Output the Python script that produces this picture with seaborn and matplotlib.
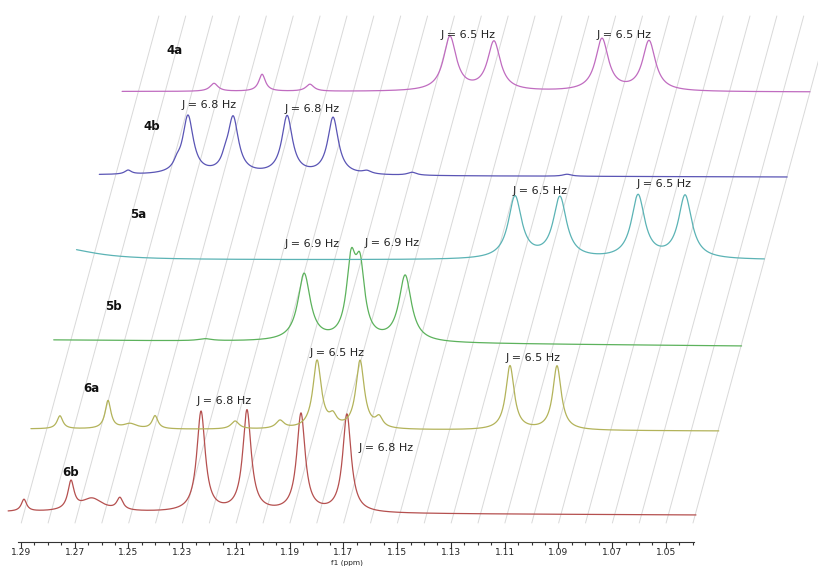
import numpy as np
import pandas as pd
import matplotlib
matplotlib.use("Agg")
import matplotlib.pyplot as plt
import seaborn as sns

# stacked 1H NMR traces, bottom to top
samples = ["6b", "6a", "5b", "5a", "4b", "4a"]
colors = ["#b5504f", "#b3b35a", "#5cb25c", "#5bb3b5", "#5a55b5", "#c06cc0"]

# peaks: centre (ppm), height, half width (ppm)
pk_6b = [1.2889, 1.2714, 1.2636, 1.2532, 1.2230, 1.2059, 1.1858, 1.1687]
ht_6b = [12, 28, 13, 12, 100, 101, 98, 98]
wd_6b = [0.0012, 0.0014, 0.0050, 0.0014, 0.0019, 0.0019, 0.0019, 0.0019]

pk_6a = [1.2840, 1.2661, 1.2579, 1.2486, 1.2188, 1.2021, 1.1883, 1.1824, 1.1723, 1.1652, 1.1165, 1.0990]
ht_6a = [13, 28, 5, 13, 8, 8, 68, 10, 68, 10, 64, 64]
wd_6a = [0.0013, 0.0013, 0.0030, 0.0013, 0.0018, 0.0018, 0.0019, 0.0016, 0.0019, 0.0016, 0.0019, 0.0019]

pk_5b = [1.2385, 1.2016, 1.1841, 1.1808, 1.1640]
ht_5b = [2, 67, 72, 66, 66]
wd_5b = [0.0030, 0.0028, 0.0021, 0.0021, 0.0028]

pk_5a = [1.3009, 1.1316, 1.1149, 1.0858, 1.0683]
ht_5a = [12, 62, 61, 63, 63]
wd_5a = [0.0149, 0.0030, 0.0030, 0.0030, 0.0030]

pk_4b = [1.2841, 1.2659, 1.2618, 1.2480, 1.2450, 1.2249, 1.2078, 1.1952, 1.1784, 1.1207]
ht_4b = [4, 6, 58, 7, 56, 58, 57, 3, 3, 2]
wd_4b = [0.0015, 0.0015, 0.0024, 0.0015, 0.0024, 0.0024, 0.0024, 0.0020, 0.0020, 0.0020]

pk_4a = [1.2606, 1.2427, 1.2249, 1.1728, 1.1564, 1.1162, 1.0987]
ht_4a = [8, 17, 7, 54, 49, 52, 50]
wd_4a = [0.0018, 0.0015, 0.0018, 0.0029, 0.0029, 0.0029, 0.0029]

# baseline level at left / right end of each trace
base_left = [31, 114, 203, 283, 368, 451.5]
base_right = [28, 112, 197, 283, 366, 451]

peaks = [(pk_6b, ht_6b, wd_6b), (pk_6a, ht_6a, wd_6a), (pk_5b, ht_5b, wd_5b),
         (pk_5a, ht_5a, wd_5a), (pk_4b, ht_4b, wd_4b), (pk_4a, ht_4a, wd_4a)]

j_labels = {
    "4a": [("J = 6.5 Hz", 468, 35), ("J = 6.5 Hz", 624, 35)],
    "4b": [("J = 6.8 Hz", 209, 105), ("J = 6.8 Hz", 312, 109)],
    "5a": [("J = 6.5 Hz", 540, 191), ("J = 6.5 Hz", 664, 184)],
    "5b": [("J = 6.9 Hz", 312, 244), ("J = 6.9 Hz", 392, 243)],
    "6a": [("J = 6.5 Hz", 337, 353), ("J = 6.5 Hz", 533, 358)],
    "6b": [("J = 6.8 Hz", 224, 401), ("J = 6.8 Hz", 386, 448)],
}
name_pos = {"4a": (175, 50), "4b": (152, 127), "5a": (138, 214),
            "5b": (113, 307), "6a": (91, 389), "6b": (71, 473)}

ppm_lo, ppm_hi = 1.0388, 1.2948
shift = 0.008485          # horizontal skew per trace
slant = shift / 84.0

rows = []
for k, (name, (c, h, w)) in enumerate(zip(samples, peaks)):
    x = np.linspace(ppm_hi, ppm_lo, 2500)
    y = np.interp(x, [ppm_lo, ppm_hi], [base_right[k], base_left[k]])
    for ci, hi, wi in zip(c, h, w):
        y = y + hi * wi**2 / ((x - ci)**2 + wi**2)
    rows.append(pd.DataFrame({"ppm": x - k * shift, "int": y, "sample": name}))
df = pd.concat(rows, ignore_index=True)

sns.set_style("ticks")
W, H = 818, 566
fig = plt.figure(figsize=(W / 100, H / 100), dpi=100)
ax = fig.add_axes([0, 24 / H, 1, 542 / H])

# skewed grid
for n in range(26):
    xb = 1.03991 + 0.01 * n
    ax.plot([xb, xb - 507 * slant], [19, 526], color="#d9d9d9", lw=0.7, zorder=0)

sns.lineplot(data=df.assign(int=df["int"] - 1), x="ppm", y="int", hue="sample",
             palette=dict(zip(samples, colors)), sort=False, estimator=None,
             legend=False, linewidth=0.9, ax=ax)

ax.set_xlim(1.29782, 0.99338)
ax.set_ylim(0, 542)
for s in ["left", "top", "right"]:
    ax.spines[s].set_visible(False)
ax.spines["bottom"].set_bounds(1.2911, 1.0395)
ax.spines["bottom"].set_color("#333333")
ax.spines["bottom"].set_linewidth(0.8)
ax.set_yticks([])
major = np.round(np.arange(1.05, 1.2901, 0.02), 2)
ax.set_xticks(major)
ax.set_xticklabels([f"{v:.2f}" for v in major], fontsize=6.6, color="#222222")
ax.set_xticks(np.round(np.arange(1.04, 1.2901, 0.005), 3), minor=True)
ax.tick_params(axis="x", which="major", length=4, width=0.8, color="#333333", pad=0.5)
ax.tick_params(axis="x", which="minor", length=2, width=0.8, color="#333333")
ax.set_xlabel("")
ax.set_ylabel("")
fig.text(347 / W, 0, "f1 (ppm)", ha="center", va="bottom", fontsize=5.3, color="#222222")

for name in samples:
    px, py = name_pos[name]
    fig.text(px / W, 1 - py / H, name, ha="center", va="center", fontsize=8.5,
             fontweight="bold", color="#111111")
    for txt, tx, ty in j_labels[name]:
        fig.text(tx / W, 1 - ty / H, txt, ha="center", va="center", fontsize=8,
                 color="#222222")

fig.savefig("out.png", dpi=100)
